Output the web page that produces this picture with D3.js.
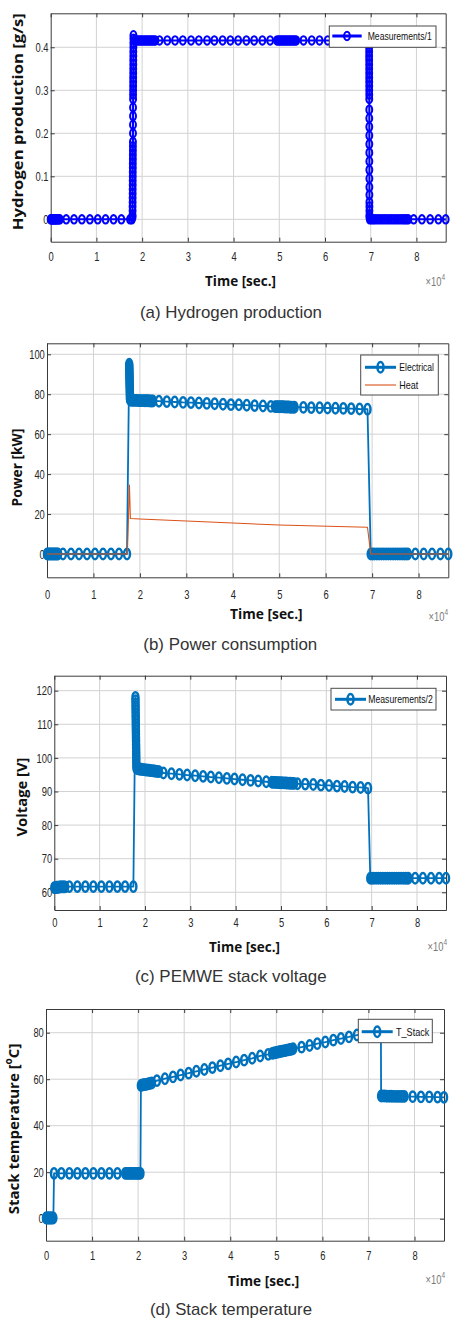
<!DOCTYPE html>
<html><head><meta charset="utf-8">
<script src="https://cdn.jsdelivr.net/npm/d3@7"></script>
<style>body{margin:0;background:#fff}svg{display:block}</style>
</head><body>
<svg id="c" width="458" height="1322"></svg>
<script>
// ---------- tick values / labels ----------
const xTickValues = [0,10000,20000,30000,40000,50000,60000,70000,80000];
const xTickLabels = ["0","1","2","3","4","5","6","7","8"];
const yTicksA = [0,0.1,0.2,0.3,0.4];       const yTickLabelsA = ["0","0.1","0.2","0.3","0.4"];
const yTicksB = [0,20,40,60,80,100];       const yTickLabelsB = ["0","20","40","60","80","100"];
const yTicksC = [60,70,80,90,100,110,120]; const yTickLabelsC = ["60","70","80","90","100","110","120"];
const yTicksD = [0,20,40,60,80];           const yTickLabelsD = ["0","20","40","60","80"];

// ---------- series: [time (s), value] ----------
const seriesH2 = [
[0,0],[150,0],[300,0],[450,0],[600,0],[750,0],[900,0],[1050,0],[1200,0],[1400,0],[1600,0],[1800,0],[2000,0],
[3400,0],[5100,0],[6820,0],[8570,0],[10290,0],[12000,0],[13750,0],[15460,0],[17350,0],[17750,0],
[17900,0.005],[17900,0.01],[17910,0.02],[17910,0.03],[17920,0.04],[17920,0.05],[17930,0.06],[17930,0.07],[17940,0.08],[17940,0.09],
[17950,0.10],[17950,0.11],[17960,0.12],[17960,0.13],[17970,0.14],[17970,0.15],[17980,0.16],[17980,0.17],[17990,0.18],[18000,0.20],
[18000,0.22],[18010,0.24],[18010,0.26],[18020,0.28],[18020,0.29],[18030,0.30],[18030,0.31],[18040,0.32],[18040,0.33],[18050,0.34],
[18050,0.35],[18060,0.36],[18060,0.37],[18070,0.38],[18070,0.39],[18080,0.40],[18080,0.41],[18090,0.42],[18100,0.428],
[18400,0.416],[18700,0.416],[19000,0.416],[19300,0.416],[19600,0.416],[19900,0.416],[20200,0.416],[20500,0.416],[20800,0.416],
[21100,0.416],[21400,0.416],[21700,0.416],[22000,0.416],[22300,0.416],[22600,0.416],[22900,0.416],
[23800,0.416],[25500,0.416],[27200,0.416],[28900,0.416],[30700,0.416],[32400,0.416],[34200,0.416],[35800,0.416],[37600,0.416],
[39300,0.416],[41000,0.416],[42800,0.416],[44500,0.416],[46300,0.416],[48000,0.416],
[49500,0.416],[49800,0.416],[50100,0.416],[50400,0.416],[50700,0.416],[51000,0.416],[51300,0.416],[51600,0.416],[51900,0.416],
[52200,0.416],[52500,0.416],[52800,0.416],[53100,0.416],[53400,0.416],[53700,0.416],
[55300,0.416],[57100,0.416],[58800,0.416],[60600,0.416],[62300,0.416],[64100,0.416],[65800,0.416],[67600,0.416],[69300,0.416],
[69650,0.41],[69650,0.40],[69655,0.39],[69655,0.38],[69660,0.37],[69660,0.36],[69665,0.35],[69665,0.34],[69670,0.33],[69670,0.32],
[69675,0.31],[69675,0.30],[69680,0.29],[69680,0.28],
[69685,0.255],[69685,0.235],[69690,0.215],[69690,0.195],[69695,0.175],[69695,0.155],[69700,0.135],[69700,0.115],[69705,0.095],
[69705,0.075],[69710,0.057],[69710,0.04],[69715,0.03],[69715,0.02],[69720,0.01],[69720,0.005],
[69800,0],[70200,0],[70600,0],[71000,0],[71500,0],[72000,0],[72500,0],[73000,0],[73500,0],[74000,0],[74500,0],[75000,0],
[75500,0],[76000,0],[76500,0],[77000,0],[77400,0],[77800,0],[78200,0],
[79400,0],[81200,0],[83000,0],[84800,0],[86400,0]
];

const seriesElectrical = [
[0,0],[200,0],[400,0],[600,0],[800,0],[1000,0],[1200,0],[1400,0],[1600,0],[1800,0],[2000,0],[2200,0],[2400,0],
[3440,0],[5170,0],[6890,0],[8610,0],[10330,0],[12060,0],[13780,0],[15500,0],[17220,0],
[17700,95],[17710,94],[17720,93],[17730,92],[17740,91],[17750,90],[17760,89],[17770,88],[17780,87],[17790,86],[17800,85],
[17810,84],[17820,83],[17830,82],[17840,81],[17850,80],[17860,79],[17870,78],[17880,77.5],
[18000,77.0],[18300,77.0],[18600,76.9],[18900,76.9],[19200,76.9],[19500,76.9],[19800,76.8],[20100,76.8],[20400,76.8],
[20700,76.8],[21000,76.7],[21300,76.7],[21600,76.7],[21900,76.7],[22200,76.6],[22500,76.6],[22800,76.6],
[24100,76.5],[25800,76.3],[27500,76.1],[29300,75.9],[31000,75.8],[32700,75.6],[34400,75.4],[36100,75.2],[37900,75.0],
[39600,74.8],[41300,74.7],[43000,74.5],[44700,74.3],[46500,74.1],[48200,73.9],
[49100,73.8],[49400,73.8],[49700,73.8],[50000,73.7],[50300,73.7],[50600,73.7],[50900,73.7],[51200,73.6],[51500,73.6],
[51800,73.6],[52100,73.6],[52400,73.5],[52700,73.5],[53000,73.5],[53300,73.5],
[55200,73.4],[56900,73.3],[58700,73.2],[60400,73.1],[62100,73.0],[63800,72.9],[65500,72.8],[67300,72.6],[69000,72.5],
[69700,0],[70100,0],[70500,0],[71000,0],[71500,0],[72000,0],[72500,0],[73000,0],[73500,0],[74000,0],[74500,0],[75000,0],
[75500,0],[76000,0],[76500,0],[76900,0],[77300,0],[77700,0],
[79300,0],[81100,0],[82900,0],[84700,0],[86400,0]
];

const seriesHeat = [
[0,0],[17300,0],[17750,34.5],[17950,17.8],[20000,17.5],[35000,16.0],[50000,14.5],[69000,13.4],[69700,0],[86400,0]
];

const seriesVoltage = [
[0,61.4],[200,61.4],[400,61.5],[600,61.5],[800,61.5],[1000,61.5],[1200,61.6],[1400,61.6],[1600,61.6],[1800,61.6],
[2000,61.6],[2200,61.6],[2400,61.6],
[3310,61.7],[5080,61.7],[6840,61.7],[8610,61.7],[10380,61.7],[12150,61.7],[13910,61.7],[15610,61.7],[17440,61.7],
[17900,118],[17910,117],[17920,116],[17930,115],[17940,114],[17950,113],[17960,112],[17970,111],[17980,110],[17990,109],
[18000,108],[18010,107],[18020,106],[18030,105],[18040,104],[18050,103],[18060,102],[18070,101],[18080,100],[18090,99],
[18100,98],[18110,97],
[18300,96.8],[18600,96.7],[18900,96.6],[19200,96.6],[19500,96.5],[19800,96.5],[20100,96.4],[20400,96.4],[20700,96.3],
[21000,96.3],[21300,96.2],[21600,96.2],[21900,96.1],[22200,96.1],[22500,96.0],[22800,96.0],[23100,95.9],
[24070,95.5],[25840,95.3],[27600,95.1],[29300,94.9],[31070,94.7],[32830,94.5],[34530,94.3],[36300,94.1],[38070,93.9],
[39750,93.7],[41520,93.5],[43290,93.3],[44980,93.1],[46750,92.9],
[48000,92.75],[48350,92.72],[48700,92.7],[49050,92.67],[49400,92.65],[49750,92.62],[50100,92.6],[50450,92.57],[50800,92.55],
[51150,92.52],[51500,92.5],[51850,92.47],[52200,92.45],[52550,92.42],[52900,92.4],
[53650,92.3],[55350,92.2],[57120,92.1],[58820,91.9],[60590,91.8],[62350,91.6],[64030,91.5],[65800,91.3],[67560,91.2],[69200,91.0],
[69700,64.2],[70100,64.2],[70500,64.2],[71000,64.2],[71500,64.2],[72000,64.2],[72500,64.2],[73000,64.2],[73500,64.2],
[74000,64.2],[74500,64.2],[75000,64.2],[75500,64.2],[76000,64.2],[76500,64.2],[77000,64.2],[77400,64.2],[77800,64.2],[78100,64.2],
[79600,64.2],[81300,64.2],[83100,64.2],[84900,64.2],[86400,64.2]
];

const seriesTStack = [
[0,0.3],[150,0.3],[300,0.3],[450,0.3],[600,0.3],[750,0.3],[900,0.3],[1050,0.3],[1200,0.3],[1400,0.3],[1600,0.3],
[1740,19.5],[3340,19.5],[5080,19.5],[6810,19.5],[8550,19.5],[10290,19.5],[12030,19.5],[13770,19.5],[15510,19.5],
[17200,19.5],[17500,19.5],[17800,19.5],[18100,19.5],[18400,19.5],[18700,19.5],[19000,19.5],[19300,19.5],[19600,19.5],
[19900,19.5],[20200,19.5],[20500,19.5],
[20600,57.3],[20900,57.5],[21200,57.6],[21500,57.7],[21800,57.8],[22100,58.0],[22400,58.1],[22700,58.3],[23000,58.4],
[24080,59.4],[25820,60.2],[27570,61.0],[29220,61.8],[30960,62.6],[32640,63.4],[34380,64.2],[36120,65.0],[37860,65.8],
[39540,66.6],[41280,67.4],[43020,68.2],[44760,69.0],[46500,70.0],[48240,70.7],
[49100,71.1],[49450,71.3],[49800,71.4],[50150,71.6],[50500,71.7],[50850,71.9],[51200,72.0],[51550,72.2],[51900,72.3],
[52250,72.5],[52600,72.6],[52950,72.8],[53300,72.9],[53650,73.1],
[55480,73.8],[57220,74.5],[58890,75.3],[60640,76.0],[62380,76.8],[64030,77.5],[65770,78.2],[67510,79.0],[69250,79.7],
[71000,80.5],[72700,81.2],
[72750,52.8],[73150,52.8],[73550,52.8],[74000,52.7],[74500,52.7],[75000,52.7],[75500,52.6],[76000,52.6],
[76500,52.6],[77000,52.6],[77400,52.6],[77800,52.6],
[79600,52.5],[81400,52.4],[83200,52.4],[85000,52.3],[86400,52.2]
];

// ---------- layout ----------
const svg = d3.select("#c");
const tickFont = "'Liberation Sans', Arial, sans-serif";
const titleFont = "'Open Sans', 'Liberation Sans', Arial, sans-serif";
const blue = "#0072BD";

const panels = [
 {l:50.7,r:445.7,t:13.3,b:241.7, yDomain:[-0.052,0.479], yTicks:yTicksA, yLabels:yTickLabelsA, xPad:10.4,
  series:[{data:seriesH2,color:"#0000FF",lw:2,marker:{rx:2.9,ry:4.2,sw:2.1}}],
  ylabel:{text:"Hydrogen production [g/s]",x:16.7,y:121.7,w:217}, xlabel:{x:240.5,y:280,w:71}, x10:{x:445,y:286},
  legend:{x:329.3,y:26,w:106.7,h:21.3, items:[{s:0,label:"Measurements/1",ly:36,l1:332.3,l2:361.7,tx:367.7,tw:64}]},
  caption:{text:"(a) Hydrogen production",x:231,y:312.3,w:182}},
 {l:47,r:448.3,t:343.3,b:577.3, yDomain:[-11.67,105.5], yTicks:yTicksB, yLabels:yTickLabelsB, xPad:12.1,
  series:[{data:seriesElectrical,color:blue,lw:1.8,marker:{rx:3,ry:5.2,sw:2.5}},
          {data:seriesHeat,color:"#D95319",lw:1.1,marker:null}],
  ylabel:{text:"Power [kW]",x:15.7,y:467.5,w:78}, xlabel:{x:266.3,y:613.3,w:72.7}, x10:{x:448,y:621},
  legend:{x:360.7,y:355,w:77.6,h:40, items:[{s:0,label:"Electrical",ly:367.3,l1:365,l2:396,tx:399.3,tw:34.7},
                                            {s:1,label:"Heat",ly:385,l1:365,l2:396,tx:399.3,tw:19}]},
  caption:{text:"(b) Power consumption",x:230.3,y:644,w:174}},
 {l:54.3,r:446,t:675.7,b:910, yDomain:[54.73,124.46], yTicks:yTicksC, yLabels:yTickLabelsC, xPad:7.8,
  series:[{data:seriesVoltage,color:blue,lw:1.8,marker:{rx:3,ry:5.2,sw:2.5}}],
  ylabel:{text:"Voltage [V]",x:20.7,y:797,w:79}, xlabel:{x:244.5,y:946.7,w:71}, x10:{x:447,y:951},
  legend:{x:331,y:688.3,w:105,h:21.7, items:[{s:0,label:"Measurements/2",ly:699.3,l1:335,l2:366,tx:368.3,tw:64.4}]},
  caption:{text:"(c) PEMWE stack voltage",x:230.8,y:976,w:191.7}},
 {l:46,r:444,t:1009,b:1240.7, yDomain:[-9.46,90.2], yTicks:yTicksD, yLabels:yTickLabelsD, xPad:9.7,
  series:[{data:seriesTStack,color:blue,lw:1.8,marker:{rx:3,ry:5.2,sw:2.5}}],
  ylabel:{text:"Stack temperature [",sup:"o",after:"C]",x:12.7,y:1129,w:163}, xlabel:{x:263.5,y:1280.7,w:71.6}, x10:{x:445,y:1284},
  legend:{x:358.3,y:1019.3,w:74,h:23.4, items:[{s:0,label:"T_Stack",ly:1031.7,l1:361.7,l2:392.7,tx:396,tw:33.3}]},
  caption:{text:"(d) Stack temperature",x:231,y:1309.3,w:162}}
];

function squeeze(sel, f){
  sel.each(function(){
    const w = this.getComputedTextLength();
    d3.select(this).attr("textLength", w*f).attr("lengthAdjust","spacingAndGlyphs");
  });
}

panels.forEach(p => {
  const g = svg.append("g");
  const x = d3.scaleLinear().domain([0,86400]).range([p.l,p.r]);
  const y = d3.scaleLinear().domain(p.yDomain).range([p.b,p.t]);

  // grid
  g.append("g").selectAll("line").data(xTickValues.slice(1)).join("line")
    .attr("x1",d=>x(d)).attr("x2",d=>x(d)).attr("y1",p.t).attr("y2",p.b)
    .attr("stroke","#d2d2d2").attr("stroke-width",1);
  g.append("g").selectAll("line").data(p.yTicks).join("line")
    .attr("x1",p.l).attr("x2",p.r).attr("y1",d=>y(d)).attr("y2",d=>y(d))
    .attr("stroke","#d2d2d2").attr("stroke-width",1);

  // axes
  const ax = [
    g.append("g").attr("transform",`translate(0,${p.b})`)
      .call(d3.axisBottom(x).tickValues(xTickValues).tickFormat((d,i)=>xTickLabels[i]).tickSizeInner(-4).tickSizeOuter(0).tickPadding(p.xPad)),
    g.append("g").attr("transform",`translate(${p.l},0)`)
      .call(d3.axisLeft(y).tickValues(p.yTicks).tickFormat((d,i)=>p.yLabels[i]).tickSizeInner(-4).tickSizeOuter(0).tickPadding(2.2)),
    g.append("g").attr("transform",`translate(0,${p.t})`)
      .call(d3.axisTop(x).tickValues(xTickValues).tickFormat("").tickSizeInner(-4).tickSizeOuter(0)),
    g.append("g").attr("transform",`translate(${p.r},0)`)
      .call(d3.axisRight(y).tickValues(p.yTicks).tickFormat("").tickSizeInner(-4).tickSizeOuter(0))
  ];
  ax.forEach(a => {
    a.select(".domain").attr("stroke","#3a3a3a").attr("stroke-width",1);
    a.selectAll(".tick line").attr("stroke","#3a3a3a");
    a.attr("font-family",tickFont).attr("font-size",13);
    a.selectAll("text").attr("fill","#262626");
  });
  squeeze(ax[0].selectAll("text"), 0.72);
  squeeze(ax[1].selectAll("text"), 0.72);

  // data
  const line = d3.line().x(d=>x(d[0])).y(d=>y(d[1]));
  p.series.forEach(s => {
    g.append("path").datum(s.data).attr("d",line).attr("fill","none")
      .attr("stroke",s.color).attr("stroke-width",s.lw).attr("stroke-linejoin","round");
    if (s.marker) {
      g.append("g").selectAll("ellipse").data(s.data).join("ellipse")
        .attr("cx",d=>x(d[0])).attr("cy",d=>y(d[1]))
        .attr("rx",s.marker.rx).attr("ry",s.marker.ry)
        .attr("fill","none").attr("stroke",s.color).attr("stroke-width",s.marker.sw);
    }
  });

  // legend
  const L = p.legend;
  const lg = g.append("g");
  lg.append("rect").attr("x",L.x).attr("y",L.y).attr("width",L.w).attr("height",L.h)
    .attr("fill","#fff").attr("stroke","#4a4a4a").attr("stroke-width",1);
  L.items.forEach(it => {
    const s = p.series[it.s];
    lg.append("line").attr("x1",it.l1).attr("x2",it.l2).attr("y1",it.ly).attr("y2",it.ly)
      .attr("stroke",s.color).attr("stroke-width",s.marker?3:1.1);
    if (s.marker) lg.append("ellipse").attr("cx",(it.l1+it.l2)/2).attr("cy",it.ly)
      .attr("rx",s.marker.rx).attr("ry",s.marker.ry).attr("fill","none")
      .attr("stroke",s.color).attr("stroke-width",s.marker.sw);
    lg.append("text").attr("x",it.tx).attr("y",it.ly).attr("dominant-baseline","central")
      .attr("font-family",tickFont).attr("font-size",11.5).attr("fill","#111")
      .attr("textLength",it.tw).attr("lengthAdjust","spacingAndGlyphs").text(it.label);
  });

  // axis titles
  const yl = g.append("text").attr("transform",`translate(${p.ylabel.x},${p.ylabel.y}) rotate(-90)`)
    .attr("text-anchor","middle").attr("dominant-baseline","central")
    .attr("font-family",titleFont).attr("font-weight","bold").attr("font-size",15).attr("fill","#111");
  if (p.ylabel.sup) {
    yl.append("tspan").text(p.ylabel.text);
    yl.append("tspan").attr("font-size",10).attr("dy",-5).text(p.ylabel.sup);
    yl.append("tspan").attr("dy",5).text(p.ylabel.after);
  } else {
    yl.text(p.ylabel.text).attr("textLength",p.ylabel.w).attr("lengthAdjust","spacingAndGlyphs");
  }
  g.append("text").attr("x",p.xlabel.x).attr("y",p.xlabel.y).attr("text-anchor","middle").attr("dominant-baseline","central")
    .attr("font-family",titleFont).attr("font-weight","bold").attr("font-size",14.5).attr("fill","#111")
    .attr("textLength",p.xlabel.w).attr("lengthAdjust","spacingAndGlyphs").text("Time  [sec.]");

  // x10^4
  const xt = g.append("g").attr("transform",`translate(${p.x10.x},${p.x10.y}) scale(0.72,1)`)
    .append("text").attr("text-anchor","end").attr("font-family",tickFont).attr("font-size",13).attr("fill","#7a7a7a");
  xt.append("tspan").text("×10");
  xt.append("tspan").attr("font-size",9).attr("dy",-6).text("4");

  // caption
  g.append("text").attr("x",p.caption.x).attr("y",p.caption.y).attr("text-anchor","middle").attr("dominant-baseline","central")
    .attr("font-family",tickFont).attr("font-size",17).attr("fill","#333")
    .attr("textLength",p.caption.w).attr("lengthAdjust","spacingAndGlyphs").text(p.caption.text);
});
</script>
</body></html>
